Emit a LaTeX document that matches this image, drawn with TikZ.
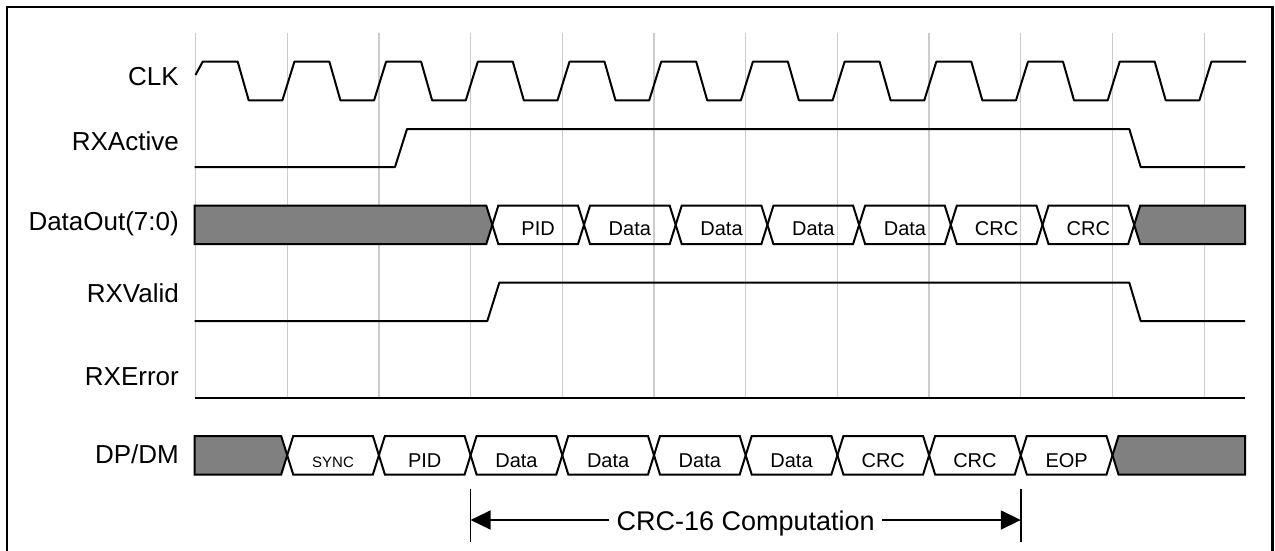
\documentclass[tikz,border=0pt]{standalone}
\usepackage{fontspec}
\setmainfont{Liberation Sans}
\usetikzlibrary{arrows.meta}
\tikzset{
  wave/.style={line width=2pt,line join=round},
  gridline/.style={line width=1.3pt,gray!40},
  bus/.style={draw,line width=2pt},
  idle/.style={bus,fill=gray},
  siglabel/.style={anchor=base east,inner sep=0pt,font=\fontsize{26}{30}\selectfont},
  cell/.style={anchor=base,inner sep=0pt},
}
\begin{document}
\begin{tikzpicture}[x=1pt,y=-1pt]
  \useasboundingbox (0,0) rectangle (1275,550);
  \draw[line width=2.2pt] (7,552) -- (7,7) -- (1272.5,7) -- (1272.5,552);
  % clock grid
  \foreach \k in {0,...,11}
    \draw[gridline] (195.5+91.7*\k,33) -- (195.5+91.7*\k,397);
  % signal names
  \node[siglabel] (clk) at (179,85.5) {CLK};
  \node[siglabel] (rxa) at (179,150) {RXActive};
  \node[siglabel] (dout) at (179,230) {DataOut(7:0)};
  \node[siglabel] (rxv) at (179,302.7) {RXValid};
  \node[siglabel] (rxe) at (179,385) {RXError};
  \node[siglabel] (dpdm) at (179,463) {DP/DM};
  % waveforms
  \draw[wave] (195.5,75) -- (202.7,61.7)
    \foreach \k in {0,...,10}{ -- ++(35,0) -- ++(11,38.6) -- ++(33.7,0) -- ++(12,-38.6) }
    -- (1246,61.7);
  \draw[wave] (194.5,167) -- (395,167) -- (407,129) -- (1129.3,129) -- (1140.7,167) -- (1245,167);
  \draw[wave] (194.5,321) -- (487.3,321) -- (499.3,282.7) -- (1129.3,282.7) -- (1140.7,321) -- (1245,321);
  \draw[wave] (194.5,397.7) -- (1245,397.7);
  % DataOut bus
  \draw[idle] (194.5,205.7) -- (486.3,205.7) -- (492.3,224.85) -- (486.3,244) -- (194.5,244) -- cycle;
  \foreach \t [count=\i from 0] in {PID,Data,Data,Data,Data,CRC,CRC}{
    \draw[bus] (492.3+91.7*\i,224.85) -- ++(6,-19.15) -- ++(79.7,0) -- ++(6,19.15)
      -- ++(-6,19.15) -- ++(-79.7,0) -- cycle;
    \node[cell,font=\fontsize{20}{24}\selectfont] (dout\i) at (538.15+91.7*\i,235.5) {\t};
  }
  \draw[idle] (1134.2,224.85) -- (1140.2,205.7) -- (1245,205.7) -- (1245,244) -- (1140.2,244) -- cycle;
  % DP/DM bus
  \draw[idle] (194.5,436) -- (281.2,436) -- (287.2,455.25) -- (281.2,474.5) -- (194.5,474.5) -- cycle;
  \foreach \t/\fs [count=\i from 0] in {SYNC/15,PID/20,Data/20,Data/20,Data/20,Data/20,CRC/20,CRC/20,EOP/20}{
    \draw[bus] (287.2+91.7*\i,455.25) -- ++(6,-19.25) -- ++(79.7,0) -- ++(6,19.25)
      -- ++(-6,19.25) -- ++(-79.7,0) -- cycle;
    \node[cell,font=\fontsize{\fs}{\fs}\selectfont] (dp\i) at (333.05+91.7*\i,467) {\t};
  }
  \draw[idle] (1112.5,455.25) -- (1118.5,436) -- (1245,436) -- (1245,474.5) -- (1118.5,474.5) -- cycle;
  % CRC span
  \coordinate (lbar) at (470.6,520);
  \coordinate (rbar) at (1020.8,520);
  \draw[line width=1.6pt] (470.6,489) -- (470.6,542);
  \draw[line width=1.6pt] (1020.8,489) -- (1020.8,542);
  \node[cell,inner xsep=7pt,font=\fontsize{27}{32}\selectfont] (crc) at (745.7,530) {CRC-16 Computation};
  \draw[line width=1.6pt,-{Triangle[length=20pt,width=19pt]}] (crc.west |- lbar) -- (lbar);
  \draw[line width=1.6pt,-{Triangle[length=20pt,width=19pt]}] (crc.east |- rbar) -- (rbar);
\end{tikzpicture}
\end{document}
